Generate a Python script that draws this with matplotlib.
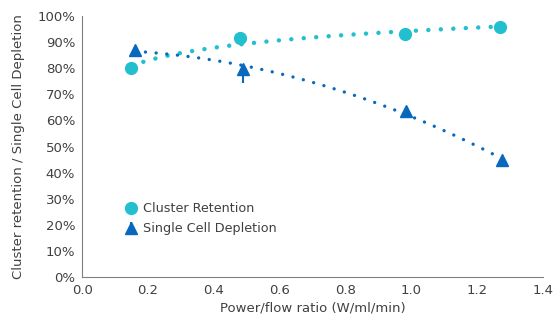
import numpy as np
import matplotlib.pyplot as plt
from matplotlib.ticker import PercentFormatter

# measured points
ratio_cluster = [0.15, 0.48, 0.98, 1.27]
cluster_retention = [80.0, 91.5, 93.0, 95.7]

ratio_single = [0.16, 0.49, 0.985, 1.275]
single_depletion = [87.0, 79.8, 63.6, 44.8]
single_err_low = [0, 5.5, 0, 0]

teal = '#22BFCF'
blue = '#0868BE'

fig = plt.figure(figsize=(5.55, 3.2), dpi=100)
ax = fig.add_axes([0.148, 0.134, 0.83, 0.816])

# trendlines (log fit for retention, quadratic for depletion)
b, a = np.polyfit(np.log(ratio_cluster), cluster_retention, 1)
xt = np.linspace(min(ratio_cluster), max(ratio_cluster), 200)
ax.plot(xt, a + b * np.log(xt), color=teal, lw=3.2, linestyle=(0, (0.01, 2.8)),
        dash_capstyle='round', zorder=2)

coef = np.polyfit(ratio_single, single_depletion, 2)
xs = np.linspace(min(ratio_single), max(ratio_single), 200)
ax.plot(xs, np.polyval(coef, xs), color=blue, lw=2.4, linestyle=(0, (0.01, 3.2)),
        dash_capstyle='round', zorder=2)

ax.plot(ratio_cluster, cluster_retention, 'o', color=teal, ms=8.5,
        label='Cluster Retention', zorder=3)
ax.errorbar(ratio_single, single_depletion, yerr=[single_err_low, [0] * 4],
            fmt='^', color=blue, ms=8, elinewidth=1.5, capsize=0,
            label='Single Cell Depletion', zorder=3)

ax.set_xlim(0, 1.4)
ax.set_ylim(0, 100)
ax.set_xticks(np.arange(0, 1.41, 0.2))
ax.set_yticks(np.arange(0, 101, 10))
ax.yaxis.set_major_formatter(PercentFormatter(decimals=0))
ax.xaxis.set_major_formatter(plt.FuncFormatter(lambda v, p: f'{v:.1f}'))
ax.tick_params(length=0, labelsize=9.5, colors='#404040', pad=5)

for s in ['top', 'right']:
    ax.spines[s].set_visible(False)
for s in ['left', 'bottom']:
    ax.spines[s].set_color('#808080')
    ax.spines[s].set_linewidth(0.8)

ax.set_xlabel('Power/flow ratio (W/ml/min)', fontsize=9.5, color='#404040', labelpad=3)
ax.set_ylabel('Cluster retention / Single Cell Depletion', fontsize=9.5,
              color='#404040', labelpad=9)

ax.legend(loc='upper left', bbox_to_anchor=(0.06, 0.33), frameon=False,
          fontsize=9.2, handletextpad=0.2, labelspacing=0.55, handlelength=1.5,
          labelcolor='#404040')

fig.savefig('out.png', dpi=100)
